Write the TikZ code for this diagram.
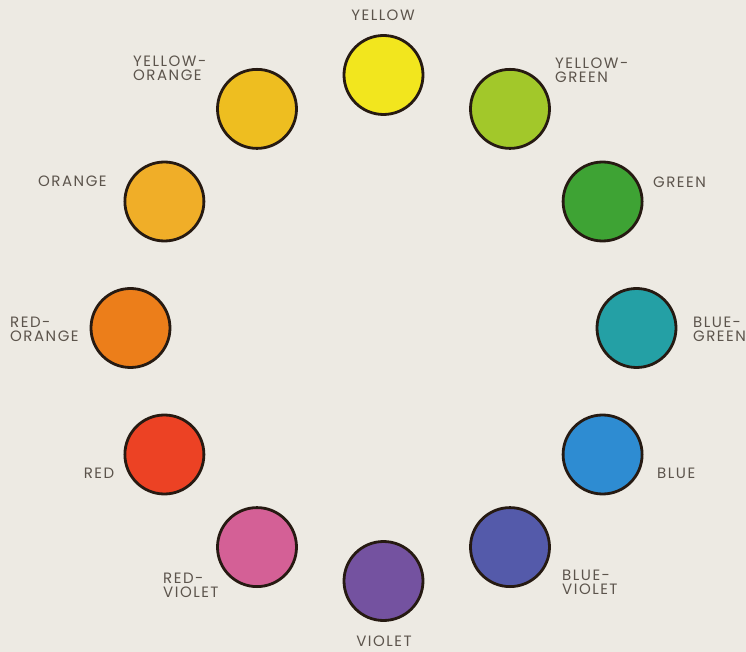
\documentclass[tikz,border=0pt]{standalone}
\usepackage{fontspec}
\setmainfont{Poppins}[LetterSpace=10]
\usepackage{tikz}
\usetikzlibrary{positioning}
\usepackage{xcolor}
\definecolor{paper}{RGB}{237,234,227}
\definecolor{rim}{RGB}{38,26,18}
\definecolor{inkgray}{RGB}{92,84,76}
\definecolor{hueY}{RGB}{242,230,30}
\definecolor{hueYG}{RGB}{162,200,42}
\definecolor{hueG}{RGB}{62,163,52}
\definecolor{hueBG}{RGB}{36,160,165}
\definecolor{hueB}{RGB}{46,140,210}
\definecolor{hueBV}{RGB}{84,90,170}
\definecolor{hueV}{RGB}{116,82,160}
\definecolor{hueRV}{RGB}{212,96,150}
\definecolor{hueR}{RGB}{236,66,36}
\definecolor{hueRO}{RGB}{236,126,26}
\definecolor{hueO}{RGB}{240,174,40}
\definecolor{hueYO}{RGB}{238,190,32}

\begin{document}
\begin{tikzpicture}[x=1pt,y=1pt,
  every node/.style={font=\fontsize{15}{14}\selectfont, text=inkgray, inner sep=0pt},
  swatch/.style={circle, draw=rim, line width=2.8pt, minimum size=79pt},
  lblL/.style={anchor=west, align=left},
  lblC/.style={anchor=center, align=center},
]

\fill[paper] (-383.5,-324) rectangle (362.5,328);
\useasboundingbox (-383.5,-324) rectangle (362.5,328);

\node[swatch, fill=hueY]  at (90:253)  (yellow)  {};
\node[swatch, fill=hueYG] at (60:253)  (ygreen)  {};
\node[swatch, fill=hueG]  at (30:253)  (green)   {};
\node[swatch, fill=hueBG] at (0:253)   (bgreen)  {};
\node[swatch, fill=hueB]  at (-30:253) (blue)    {};
\node[swatch, fill=hueBV] at (-60:253) (bviolet) {};
\node[swatch, fill=hueV]  at (-90:253) (violet)  {};
\node[swatch, fill=hueRV] at (240:253) (rviolet) {};
\node[swatch, fill=hueR]  at (210:253) (red)     {};
\node[swatch, fill=hueRO] at (180:253) (rorange) {};
\node[swatch, fill=hueO]  at (150:253) (orange)  {};
\node[swatch, fill=hueYO] at (120:253) (yorange) {};

\node[lblC] at (-0.5,313)      (yellowlbl)  {YELLOW};
\node[lblL] at (171.5,258)     (ygreenlbl)  {YELLOW-\\GREEN};
\node[lblL] at (269.5,146)     (greenlbl)   {GREEN};
\node[lblL] at (309.5,-1.5)    (bgreenlbl)  {BLUE-\\GREEN};
\node[lblL] at (273.5,-145)    (bluelbl)    {BLUE};
\node[lblL] at (178.5,-254.5)  (bvioletlbl) {BLUE-\\VIOLET};
\node[lblC] at (0.5,-313)      (violetlbl)  {VIOLET};
\node[lblL] at (-220.5,-257)   (rvioletlbl) {RED-\\VIOLET};
\node[lblC] at (-284.5,-145)   (redlbl)     {RED};
\node[lblL] at (-373.5,-1.5)   (rorangelbl) {RED-\\ORANGE};
\node[lblL] at (-345.5,147)    (orangelbl)  {ORANGE};
\node[lblL] at (-250.5,259.5)  (yorangelbl) {YELLOW-\\ORANGE};
\end{tikzpicture}
\end{document}
